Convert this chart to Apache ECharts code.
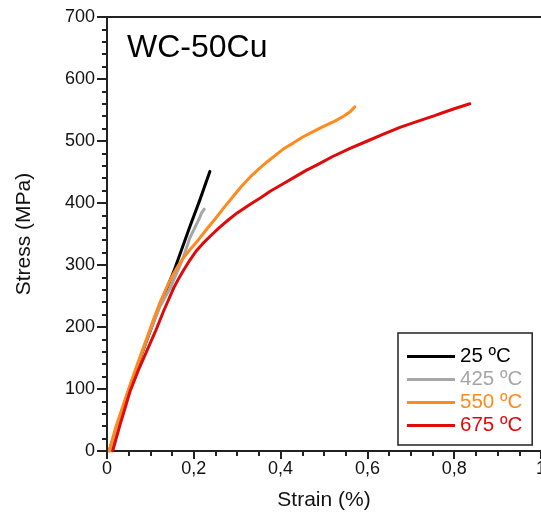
<!DOCTYPE html>
<html>
<head>
<meta charset="utf-8">
<script src="https://cdn.jsdelivr.net/npm/echarts@6/dist/echarts.min.js"></script>
<style>
  html, body { margin: 0; padding: 0; background: #fff; }
  #chart { width: 541px; height: 517px; }
</style>
</head>
<body>
<div id="chart"></div>
<script>
// Stress–strain curves of WC-50Cu at several test temperatures
const seriesNames = ['25 ºC', '425 ºC', '550 ºC', '675 ºC'];
const seriesColors = ['#000000', '#a6a6a6', '#ff8a1e', '#e00a0a'];

// [strain (%), stress (MPa)]
const curve25 = [[0.005,0],[0.05,98],[0.09,176],[0.12,232],[0.153,288],[0.191,362],[0.214,405],[0.237,451]];
const curve425 = [[0.008,0],[0.05,99],[0.09,177],[0.12,230],[0.145,262],[0.165,294],[0.176,313],[0.191,344],[0.205,364],[0.214,377],[0.218,384],[0.224,390]];
const curve550 = [[0.005,0],[0.02,38],[0.05,100],[0.07,140],[0.09,178],[0.105,208],[0.12,236],[0.135,260],[0.15,282],[0.165,300],[0.18,315],[0.195,328],[0.21,340],[0.23,358],[0.25,375],[0.27,393],[0.29,410],[0.31,427],[0.33,442],[0.35,455],[0.37,467],[0.39,478],[0.406,487],[0.43,497],[0.45,506],[0.475,515],[0.50,524],[0.525,532],[0.545,540],[0.56,547],[0.571,555]];
const curve675 = [[0.013,0],[0.03,42],[0.053,96],[0.072,130],[0.092,162],[0.111,192],[0.13,225],[0.153,262],[0.165,278],[0.175,290],[0.191,308],[0.205,322],[0.22,334],[0.24,348],[0.26,361],[0.28,373],[0.30,384],[0.33,398],[0.355,409],[0.376,419],[0.406,431],[0.44,445],[0.46,453],[0.483,461],[0.52,475],[0.56,488],[0.60,500],[0.637,511],[0.675,522],[0.70,528],[0.729,535],[0.755,541],[0.775,546],[0.80,552],[0.836,560]];

const curves = [curve25, curve425, curve550, curve675];
const xTicks = [0, 0.2, 0.4, 0.6, 0.8, 1];
const yTicks = [0, 100, 200, 300, 400, 500, 600, 700];

const chart = echarts.init(document.getElementById('chart'));
const font = 'Liberation Sans, Arial, sans-serif';
const axisColor = '#222';

chart.setOption({
  backgroundColor: '#fff',
  animation: false,
  textStyle: { fontFamily: font },
  title: {
    text: 'WC-50Cu',
    left: 122,
    top: 27,
    textStyle: { fontFamily: font, fontSize: 32, fontWeight: 'normal', color: '#000' }
  },
  grid: { left: 107, right: 0, top: 17, bottom: 66, outerBoundsMode: 'none', containLabel: false },
  legend: {
    orient: 'vertical',
    left: 398,
    top: 333,
    padding: [13, 10, 9, 9],
    itemGap: 2,
    itemWidth: 48,
    itemHeight: 3,
    icon: 'rect',
    borderColor: '#222',
    borderWidth: 1.5,
    borderRadius: 0,
    textStyle: { fontFamily: font, fontSize: 20.5 },
    data: seriesNames.map((n, i) => ({ name: n, textStyle: { color: seriesColors[i] } }))
  },
  xAxis: [{
    type: 'value',
    min: xTicks[0],
    max: xTicks[xTicks.length - 1],
    interval: 0.2,
    name: 'Strain (%)',
    nameLocation: 'middle',
    nameGap: 39,
    nameTextStyle: { fontFamily: font, fontSize: 21, color: '#111' },
    axisLine: { onZero: false, lineStyle: { color: axisColor, width: 2 } },
    axisTick: { length: 8, inside: false, lineStyle: { color: axisColor, width: 2 } },
    minorTick: { show: true, splitNumber: 4, length: 5, lineStyle: { color: axisColor, width: 2 } },
    splitLine: { show: false },
    axisLabel: {
      margin: 9,
      fontFamily: font, fontSize: 18, color: '#111',
      formatter: v => (Math.round(v * 10) / 10).toString().replace('.', ',')
    }
  }, {
    type: 'value',
    position: 'top',
    min: 0, max: 1,
    axisLine: { show: true, onZero: false, lineStyle: { color: axisColor, width: 2 } },
    axisTick: { show: false },
    axisLabel: { show: false },
    splitLine: { show: false }
  }],
  yAxis: {
    type: 'value',
    min: yTicks[0],
    max: yTicks[yTicks.length - 1],
    interval: 100,
    name: 'Stress (MPa)',
    nameLocation: 'middle',
    nameGap: 72,
    nameTextStyle: { fontFamily: font, fontSize: 21, color: '#111' },
    axisLine: { show: true, onZero: false, lineStyle: { color: axisColor, width: 2 } },
    axisTick: { length: 10, lineStyle: { color: axisColor, width: 2 } },
    minorTick: { show: true, splitNumber: 5, length: 5, lineStyle: { color: axisColor, width: 2 } },
    splitLine: { show: false },
    axisLabel: { margin: 12, fontFamily: font, fontSize: 18, color: '#111' }
  },
  series: curves.map((c, i) => ({
    name: seriesNames[i],
    type: 'line',
    xAxisIndex: 0,
    data: c,
    symbol: 'none',
    smooth: false,
    z: 2 + i,
    lineStyle: { color: seriesColors[i], width: 3, join: 'round', cap: 'round' },
    itemStyle: { color: seriesColors[i] }
  }))
});
</script>
</body>
</html>
